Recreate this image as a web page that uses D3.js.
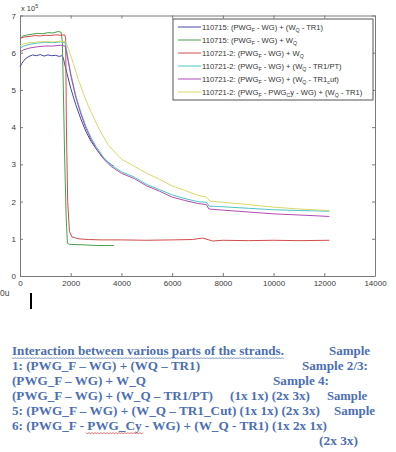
<!DOCTYPE html>
<html>
<head>
<meta charset="utf-8">
<script src="https://cdn.jsdelivr.net/npm/d3@7"></script>
<style>
  body { margin: 0; background: #fff; }
  svg { display: block; }
</style>
</head>
<body>
<script>
// time (s) vs value (x 10^5)
const blueTR1 = [[0,5.62],[80,5.72],[200,5.83],[350,5.9],[500,5.94],[650,5.92],[800,5.95],[950,5.91],[1100,5.94],[1250,5.92],[1400,5.93],[1550,5.9],[1650,5.92],[1700,5.88],[1760,5.7],[1850,5.45],[2000,5.05],[2200,4.6],[2400,4.22],[2600,3.88],[2800,3.62],[3000,3.42],[3200,3.24],[3400,3.1],[3600,2.99],[3700,2.95]];
const greenWQ = [[0,6.38],[120,6.45],[300,6.48],[500,6.5],[700,6.52],[900,6.51],[1100,6.54],[1300,6.53],[1500,6.57],[1620,6.55],[1670,6.3],[1710,5.0],[1760,3.2],[1820,1.6],[1870,0.88],[1950,0.85],[2400,0.84],[3000,0.82],[3400,0.82],[3700,0.82]];
const redWQ = [[0,6.38],[150,6.42],[400,6.44],[600,6.46],[800,6.45],[1000,6.47],[1200,6.46],[1400,6.48],[1600,6.47],[1760,6.48],[1800,6.4],[1830,4.0],[1880,2.0],[1950,1.2],[2050,1.05],[2300,1.0],[2700,0.98],[3200,0.97],[4000,0.97],[5000,0.96],[6000,0.97],[6800,0.98],[7200,1.02],[7450,0.97],[7600,0.94],[8000,0.96],[9000,0.95],[10000,0.96],[11000,0.95],[12200,0.96]];
const cyanPT = [[0,6.12],[150,6.18],[400,6.23],[700,6.26],[1000,6.28],[1300,6.27],[1600,6.29],[1780,6.27],[1850,6.02],[2000,5.45],[2200,4.85],[2400,4.4],[2600,4.02],[2800,3.72],[3000,3.48],[3300,3.18],[3600,2.98],[4000,2.8],[4500,2.66],[5000,2.46],[5500,2.32],[6000,2.18],[6500,2.08],[7000,2.0],[7350,1.98],[7450,1.88],[8000,1.86],[9000,1.82],[10000,1.78],[11000,1.76],[12200,1.74]];
const magentaCut = [[0,6.02],[150,6.08],[400,6.13],[700,6.16],[1000,6.18],[1300,6.18],[1600,6.2],[1780,6.18],[1850,5.95],[2000,5.4],[2200,4.8],[2400,4.35],[2600,3.97],[2800,3.67],[3000,3.43],[3300,3.14],[3600,2.94],[4000,2.76],[4500,2.62],[5000,2.42],[5500,2.28],[6000,2.12],[6500,2.03],[7000,1.95],[7350,1.92],[7450,1.8],[8000,1.77],[9000,1.72],[10000,1.67],[11000,1.64],[12200,1.6]];
const yellowCy = [[0,6.18],[150,6.24],[400,6.27],[700,6.29],[1000,6.3],[1300,6.29],[1600,6.31],[1800,6.3],[1900,6.12],[2100,5.72],[2300,5.28],[2500,4.9],[2700,4.56],[3000,4.12],[3200,3.85],[3500,3.5],[4000,3.14],[4500,2.95],[5000,2.76],[5500,2.6],[6000,2.42],[6500,2.3],[7000,2.17],[7350,2.12],[7500,2.01],[8000,1.98],[9000,1.92],[10000,1.85],[11000,1.8],[12200,1.76]];

const seriesColors = ["#4646aa", "#4c9e4c", "#d24c4c", "#4cc6c6", "#b04cb4", "#d8d86a"];
const xTicks = [0, 2000, 4000, 6000, 8000, 10000, 12000, 14000];
const yTicks = [0, 1, 2, 3, 4, 5, 6, 7];

// legend entries: [text, subscript?] pieces
const legendLabels = [
  [["110715: (PWG"], ["F", 1], [" - WG) + (W"], ["Q", 1], [" - TR1)"]],
  [["110715: (PWG"], ["F", 1], [" - WG) + W"], ["Q", 1]],
  [["110721-2: (PWG"], ["F", 1], [" - WG) + W"], ["Q", 1]],
  [["110721-2: (PWG"], ["F", 1], [" - WG) + (W"], ["Q", 1], [" - TR1/PT)"]],
  [["110721-2: (PWG"], ["F", 1], [" - WG) + (W"], ["Q", 1], [" - TR1"], ["c", 1], ["ut)"]],
  [["110721-2: (PWG"], ["F", 1], [" - PWG"], ["C", 1], ["y - WG) + (W"], ["Q", 1], [" - TR1)"]]
];

// caption below the chart: [text, x, width, baseline]
const captionParts = [
  ["Interaction between various parts of the strands.", 12, 272, 355],
  ["Sample", 329, 41, 355],
  ["1: (PWG_F \u2013 WG) + (WQ \u2013 TR1)", 12, 188, 370],
  ["Sample 2/3:", 302, 66, 370],
  ["(PWG_F \u2013 WG) + W_Q", 12, 134, 385],
  ["Sample 4:", 273, 56, 385],
  ["(PWG_F \u2013 WG) + (W_Q \u2013 TR1/PT)", 12, 201, 400],
  ["(1x 1x) (2x 3x)", 230, 80, 400],
  ["Sample", 327, 40, 400],
  ["5: (PWG_F \u2013 WG) + (W_Q \u2013 TR1_Cut) (1x 1x) (2x 3x)", 12, 308, 415],
  ["Sample", 334, 41, 415],
  ["6: (PWG_F - PWG_Cy - WG) + (W_Q - TR1) (1x 2x 1x)", 12, 315, 430],
  ["(2x 3x)", 319, 39, 445]
];

const W = 396, H = 452;
const svg = d3.select("body").append("svg")
  .attr("width", W)
  .attr("height", H);

svg.append("rect").attr("width", W).attr("height", H).attr("fill", "#fff");

const plot = {left: 20, top: 15.5, right: 375, bottom: 276};

const x = d3.scaleLinear().domain([0, 14000]).range([plot.left, plot.right]);
const y = d3.scaleLinear().domain([0, 7]).range([plot.bottom, plot.top]);

const axisColor = "#7a7a7a";
const font = "'Liberation Sans', Arial, sans-serif";

function styleAxis(g, showLabels) {
  g.select(".domain").attr("stroke", axisColor);
  g.selectAll(".tick line").attr("stroke", axisColor);
  g.selectAll(".tick text")
    .attr("fill", "#3a3a3a")
    .attr("font-family", font)
    .attr("font-size", 8)
    .style("display", showLabels ? null : "none");
}

const plain = d => String(d);

svg.append("g")
  .attr("transform", `translate(0,${plot.bottom})`)
  .call(d3.axisBottom(x).tickValues(xTicks).tickFormat(plain).tickSize(-3).tickPadding(4).tickSizeOuter(0))
  .call(g => styleAxis(g, true));

svg.append("g")
  .attr("transform", `translate(0,${plot.top})`)
  .call(d3.axisTop(x).tickValues(xTicks).tickSize(-3).tickSizeOuter(0))
  .call(g => styleAxis(g, false));

svg.append("g")
  .attr("transform", `translate(${plot.left},0)`)
  .call(d3.axisLeft(y).tickValues(yTicks).tickFormat(plain).tickSize(-3).tickPadding(4).tickSizeOuter(0))
  .call(g => styleAxis(g, true));

svg.append("g")
  .attr("transform", `translate(${plot.right},0)`)
  .call(d3.axisRight(y).tickValues(yTicks).tickSize(-3).tickSizeOuter(0))
  .call(g => styleAxis(g, false));

// exponent label
const expo = svg.append("text")
  .attr("x", 21).attr("y", 11)
  .attr("font-family", font).attr("font-size", 7.5).attr("fill", "#3a3a3a");
expo.append("tspan").text("x 10");
expo.append("tspan").attr("dy", -3).attr("font-size", 5.5).text("5");

const line = d3.line().x(d => x(d[0])).y(d => y(d[1]));

const allSeries = [blueTR1, greenWQ, redWQ, cyanPT, magentaCut, yellowCy];

svg.append("g")
  .selectAll("path")
  .data(allSeries)
  .enter().append("path")
  .attr("d", line)
  .attr("fill", "none")
  .attr("stroke", (d, i) => seriesColors[i])
  .attr("stroke-width", 1);

// legend
const legend = svg.append("g").attr("transform", "translate(173,19)");
legend.append("rect")
  .attr("width", 200).attr("height", 81)
  .attr("fill", "#fff").attr("stroke", "#555").attr("stroke-width", 1);

const rows = legend.selectAll("g.row")
  .data(legendLabels)
  .enter().append("g")
  .attr("class", "row")
  .attr("transform", (d, i) => `translate(0,${8 + i * 13})`);

rows.append("line")
  .attr("x1", 5).attr("x2", 28)
  .attr("stroke", (d, i) => seriesColors[i]);

rows.append("text")
  .attr("x", 29).attr("y", 3)
  .attr("font-family", font).attr("font-size", 7.6).attr("fill", "#333")
  .each(function(parts) {
    const t = d3.select(this);
    let shift = 0;
    parts.forEach(p => {
      const sub = p[1] ? 1.8 : 0;
      const ts = t.append("tspan").attr("dy", sub - shift).text(p[0]);
      if (p[1]) ts.attr("font-size", 5.2);
      shift = sub;
    });
  });

// stray text under the axis
svg.append("text")
  .attr("x", 0).attr("y", 296)
  .attr("font-family", font).attr("font-size", 8.5).attr("fill", "#444")
  .text("0u");
svg.append("rect")
  .attr("x", 30).attr("y", 293).attr("width", 2).attr("height", 16)
  .attr("fill", "#000");

// caption
svg.append("g")
  .selectAll("text")
  .data(captionParts)
  .enter().append("text")
  .attr("x", d => d[1])
  .attr("y", d => d[3])
  .attr("textLength", d => d[2])
  .attr("lengthAdjust", "spacingAndGlyphs")
  .attr("font-family", "'Liberation Serif', 'Times New Roman', serif")
  .attr("font-weight", "bold")
  .attr("font-size", 13)
  .attr("fill", "#4d6fb3")
  .text(d => d[0]);

// wavy proofing underlines
function wavy(x0, x1, yy, color) {
  const pts = [];
  for (let px = x0, k = 0; px <= x1; px += 1.5, k++) pts.push([px, yy + (k % 2 ? 1 : -0.5)]);
  svg.append("path")
    .attr("d", d3.line()(pts))
    .attr("fill", "none")
    .attr("stroke", color)
    .attr("stroke-width", 0.7);
}
wavy(12, 284, 358, "#4d6fb3");
wavy(86, 143, 433, "#d03030");
</script>
</body>
</html>
